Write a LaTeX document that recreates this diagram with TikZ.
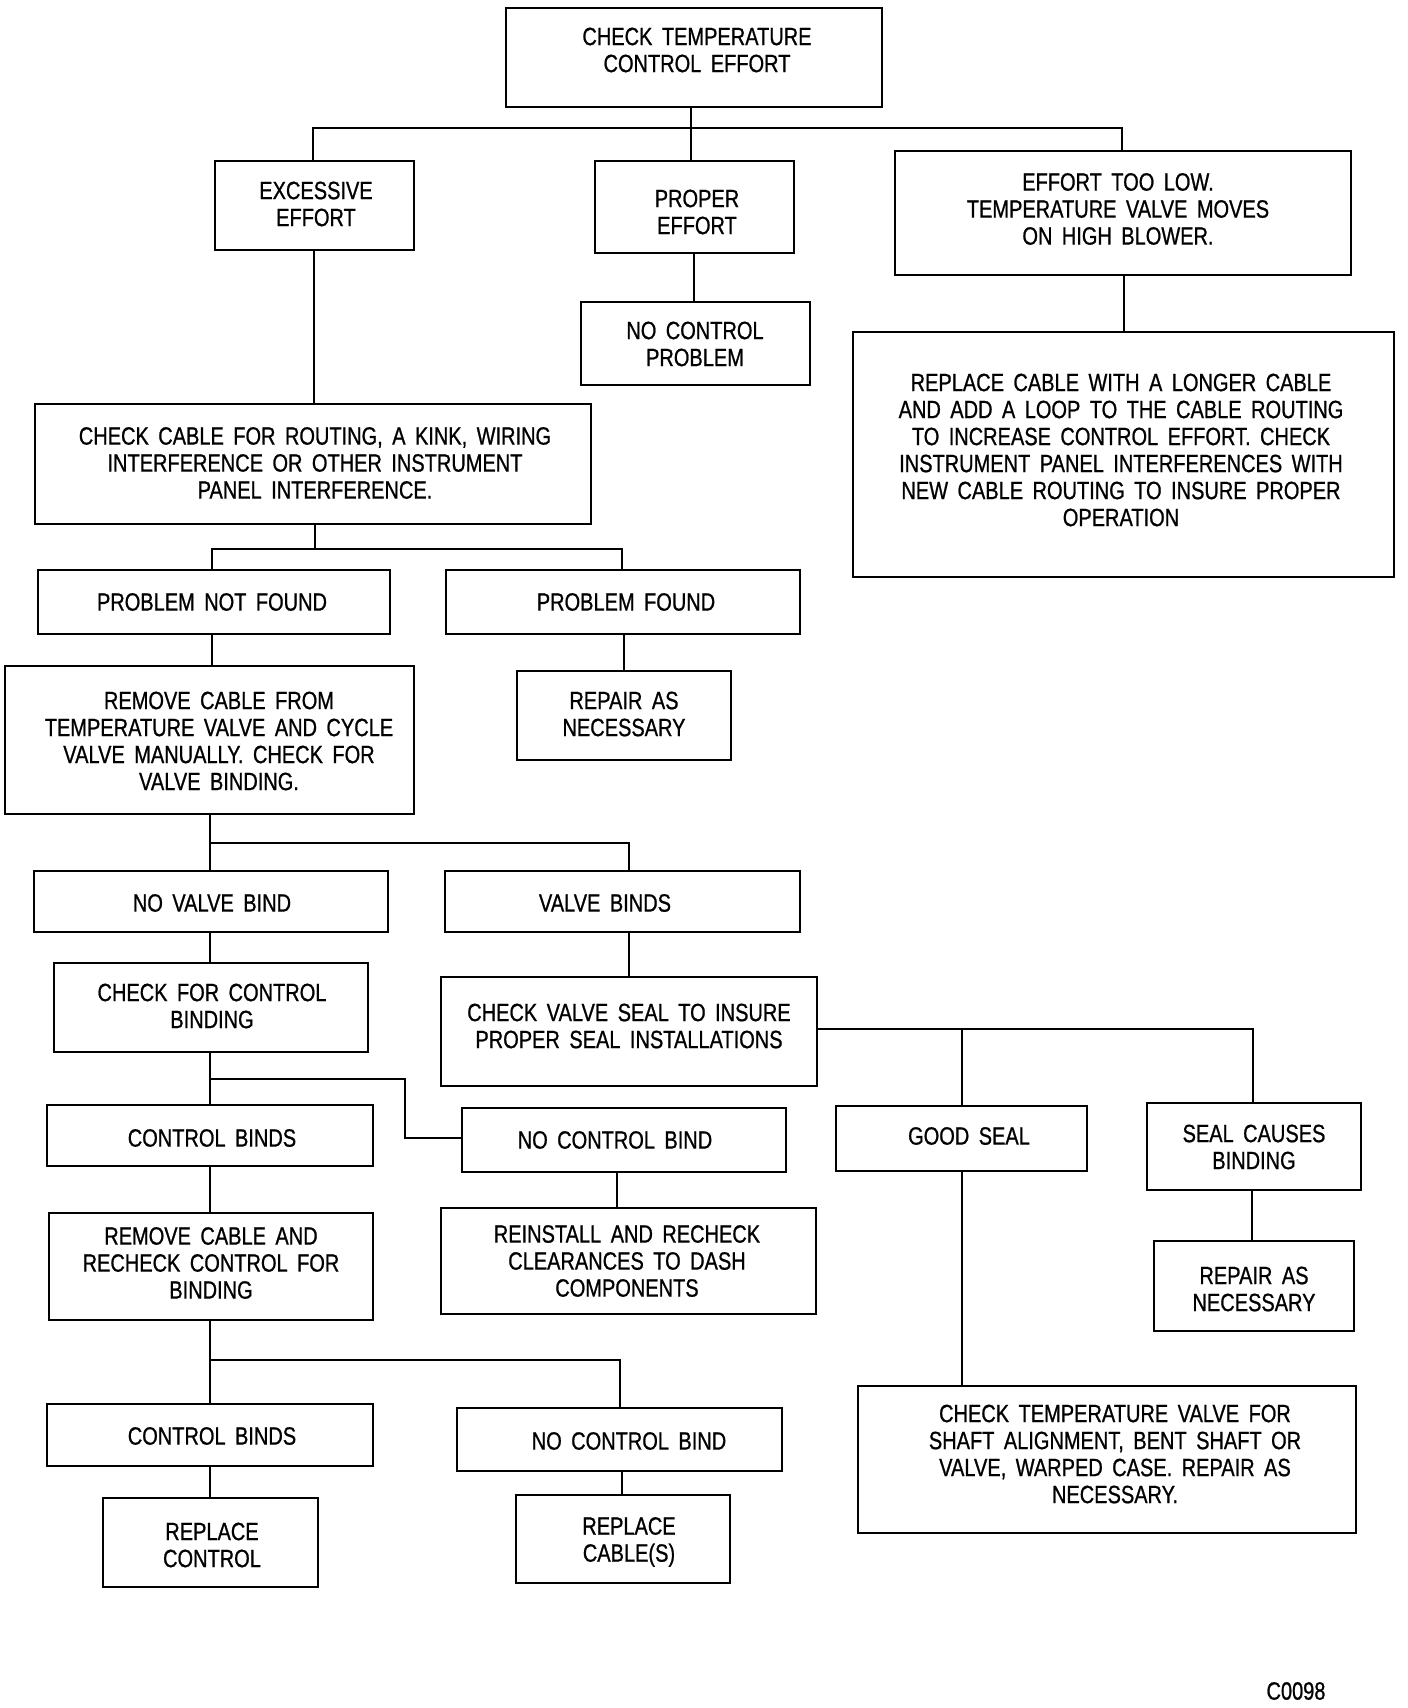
\documentclass[tikz,border=0pt]{standalone}
\usepackage{fontspec}
\setmainfont{Liberation Sans}[FakeStretch=0.8, WordSpace=1.7, FakeBold=0.8]
\begin{document}
\begin{tikzpicture}[x=1pt,y=-1pt,
  box/.style={draw, line width=2.8pt, inner sep=0pt, outer sep=0pt},
  txt/.style={inner sep=0pt, align=center, font=\fontsize{25}{27}\selectfont},
  conn/.style={line width=2.8pt}]
\useasboundingbox (0,0) rectangle (1408,1708);
\newcommand{\bx}[5]{\node[box, minimum width={#4-#2}, minimum height={#5-#3}] (#1) at ({(#2+#4)/2},{(#3+#5)/2}) {};}
% boxes
\bx{b1}{506}{8}{882}{107}
\bx{b2}{215}{161}{414}{250}
\bx{b3}{595}{161}{794}{253}
\bx{b4}{895}{151}{1351}{275}
\bx{b5}{581}{302}{810}{385}
\bx{b6}{853}{332}{1394}{577}
\bx{b7}{35}{404}{591}{524}
\bx{b8}{38}{570}{390}{634}
\bx{b9}{446}{570}{800}{634}
\bx{b10}{5}{666}{414}{814}
\bx{b11}{517}{671}{731}{760}
\bx{b12}{34}{871}{388}{932}
\bx{b13}{445}{871}{800}{932}
\bx{b14}{54}{963}{368}{1052}
\bx{b15}{441}{977}{817}{1086}
\bx{b16}{47}{1105}{373}{1166}
\bx{b17}{462}{1108}{786}{1172}
\bx{b18}{836}{1106}{1087}{1171}
\bx{b19}{1147}{1103}{1361}{1190}
\bx{b20}{49}{1213}{373}{1320}
\bx{b21}{441}{1208}{816}{1314}
\bx{b22}{1154}{1241}{1354}{1331}
\bx{b23}{47}{1404}{373}{1466}
\bx{b24}{457}{1408}{782}{1471}
\bx{b25}{858}{1386}{1356}{1533}
\bx{b26}{103}{1498}{318}{1587}
\bx{b27}{516}{1495}{730}{1583}
% texts
\node[txt] (t1) at (697,50) {CHECK TEMPERATURE\\CONTROL EFFORT};
\node[txt] (t2) at (316,204) {EXCESSIVE\\EFFORT};
\node[txt] (t3) at (697,212) {PROPER\\EFFORT};
\node[txt] (t4) at (1118,209) {EFFORT TOO LOW.\\TEMPERATURE VALVE MOVES\\ON HIGH BLOWER.};
\node[txt] (t5) at (695,344) {NO CONTROL\\PROBLEM};
\node[txt] (t6) at (1121,450) {REPLACE CABLE WITH A LONGER CABLE\\AND ADD A LOOP TO THE CABLE ROUTING\\TO INCREASE CONTROL EFFORT. CHECK\\INSTRUMENT PANEL INTERFERENCES WITH\\NEW CABLE ROUTING TO INSURE PROPER\\OPERATION};
\node[txt] (t7) at (315,463) {CHECK CABLE FOR ROUTING, A KINK, WIRING\\INTERFERENCE OR OTHER INSTRUMENT\\PANEL INTERFERENCE.};
\node[txt] (t8) at (212,602) {PROBLEM NOT FOUND};
\node[txt] (t9) at (626,602) {PROBLEM FOUND};
\node[txt] (t10) at (219,741) {REMOVE CABLE FROM\\TEMPERATURE VALVE AND CYCLE\\VALVE MANUALLY. CHECK FOR\\VALVE BINDING.};
\node[txt] (t11) at (624,714) {REPAIR AS\\NECESSARY};
\node[txt] (t12) at (212,903) {NO VALVE BIND};
\node[txt] (t13) at (605,903) {VALVE BINDS};
\node[txt] (t14) at (212,1006) {CHECK FOR CONTROL\\BINDING};
\node[txt] (t15) at (629,1026) {CHECK VALVE SEAL TO INSURE\\PROPER SEAL INSTALLATIONS};
\node[txt] (t16) at (212,1138) {CONTROL BINDS};
\node[txt] (t17) at (615,1140) {NO CONTROL BIND};
\node[txt] (t18) at (969,1136) {GOOD SEAL};
\node[txt] (t19) at (1254,1147) {SEAL CAUSES\\BINDING};
\node[txt] (t20) at (211,1263) {REMOVE CABLE AND\\RECHECK CONTROL FOR\\BINDING};
\node[txt] (t21) at (627,1261) {REINSTALL AND RECHECK\\CLEARANCES TO DASH\\COMPONENTS};
\node[txt] (t22) at (1254,1289) {REPAIR AS\\NECESSARY};
\node[txt] (t23) at (212,1436) {CONTROL BINDS};
\node[txt] (t24) at (629,1441) {NO CONTROL BIND};
\node[txt] (t25) at (1115,1454) {CHECK TEMPERATURE VALVE FOR\\SHAFT ALIGNMENT, BENT SHAFT OR\\VALVE, WARPED CASE. REPAIR AS\\NECESSARY.};
\node[txt] (t26) at (212,1545) {REPLACE\\CONTROL};
\node[txt] (t27) at (629,1542) {REPLACE\\CABLE(S)};
\node[txt] (t28) at (1296,1691) {C0098};
% junction coordinates
\coordinate (j1) at (691,128);
\coordinate (j1L) at (313,128);
\coordinate (j1R) at (1122,128);
\coordinate (c2) at (314,0);
\coordinate (c3) at (694,0);
\coordinate (c4) at (1124,0);
\coordinate (j7) at (315,549);
\coordinate (j7L) at (212,549);
\coordinate (j7R) at (622,549);
\coordinate (c8) at (212,0);
\coordinate (c9) at (624,0);
\coordinate (j10L) at (210,843);
\coordinate (j10R) at (629,843);
\coordinate (c12) at (210,0);
\coordinate (c13) at (629,0);
\coordinate (j14) at (210,1079);
\coordinate (j14R) at (405,1079);
\coordinate (j14D) at (405,1138);
\coordinate (j15G) at (962,1029);
\coordinate (j15S) at (1253,1029);
\coordinate (c16) at (210,0);
\coordinate (c17) at (617,0);
\coordinate (c19) at (1252,0);
\coordinate (j20) at (210,1360);
\coordinate (j20R) at (620,1360);
\coordinate (c23) at (210,0);
\coordinate (c24) at (622,0);
% connectors
\draw[conn] (j1 |- b1.south) -- (j1);
\draw[conn] (j1L |- b2.north) -- (j1L) -- (j1R) -- (j1R |- b4.north);
\draw[conn] (j1) -- (j1 |- b3.north);
\draw[conn] (c3 |- b3.south) -- (c3 |- b5.north);
\draw[conn] (c4 |- b4.south) -- (c4 |- b6.north);
\draw[conn] (c2 |- b2.south) -- (c2 |- b7.north);
\draw[conn] (j7 |- b7.south) -- (j7);
\draw[conn] (j7L |- b8.north) -- (j7L) -- (j7R) -- (j7R |- b9.north);
\draw[conn] (c8 |- b8.south) -- (c8 |- b10.north);
\draw[conn] (c9 |- b9.south) -- (c9 |- b11.north);
\draw[conn] (j10L |- b10.south) -- (j10L |- b12.north);
\draw[conn] (j10L) -- (j10R) -- (j10R |- b13.north);
\draw[conn] (c12 |- b12.south) -- (c12 |- b14.north);
\draw[conn] (c13 |- b13.south) -- (c13 |- b15.north);
\draw[conn] (b15.east |- j15G) -- (j15S) -- (j15S |- b19.north);
\draw[conn] (j15G) -- (j15G |- b18.north);
\draw[conn] (j14 |- b14.south) -- (j14 |- b16.north);
\draw[conn] (j14) -- (j14R) -- (j14D) -- (b17.west |- j14D);
\draw[conn] (c17 |- b17.south) -- (c17 |- b21.north);
\draw[conn] (c16 |- b16.south) -- (c16 |- b20.north);
\draw[conn] (j20 |- b20.south) -- (j20 |- b23.north);
\draw[conn] (j20) -- (j20R) -- (j20R |- b24.north);
\draw[conn] (c23 |- b23.south) -- (c23 |- b26.north);
\draw[conn] (c24 |- b24.south) -- (c24 |- b27.north);
\draw[conn] (c19 |- b19.south) -- (c19 |- b22.north);
\draw[conn] (j15G |- b18.south) -- (j15G |- b25.north);
\end{tikzpicture}
\end{document}
